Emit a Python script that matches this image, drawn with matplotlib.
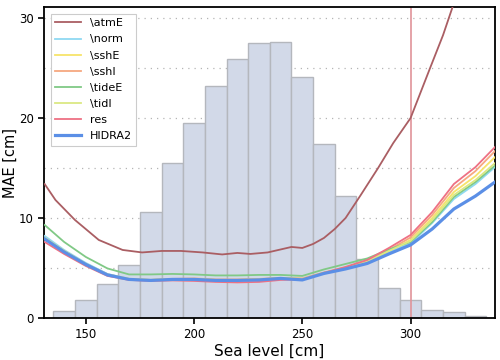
import numpy as np
import matplotlib
matplotlib.use("Agg")
import matplotlib.pyplot as plt
from matplotlib.ticker import MultipleLocator

# histogram of sea levels (heights read in MAE units of the plot)
bin_centers = [140, 150, 160, 170, 180, 190, 200, 210, 220, 230, 240, 250,
               260, 270, 280, 290, 300, 310, 320, 330]
bin_heights = [0.7, 1.8, 3.4, 5.3, 10.6, 15.5, 19.5, 23.2, 25.9, 27.5, 27.6, 24.1,
               17.4, 12.2, 5.9, 3.0, 1.8, 0.8, 0.6, 0.15]

# MAE curves
sea_level = [131, 140, 150, 160, 170, 180, 190, 200, 210, 220, 230, 240,
             250, 260, 270, 280, 290, 300, 310, 320, 330, 339]
hidra2 = [7.9, 6.6, 5.35, 4.3, 3.85, 3.75, 3.85, 3.85, 3.75, 3.75, 3.8, 3.95,
          3.8, 4.45, 4.9, 5.45, 6.4, 7.3, 8.9, 10.9, 12.2, 13.6]
norm = [8.2, 6.8, 5.5, 4.4, 3.9, 3.8, 3.9, 3.9, 3.8, 3.8, 3.85, 4.0,
        3.9, 4.5, 5.0, 5.6, 6.6, 7.45, 9.5, 11.9, 13.4, 15.1]
sshE = [8.0, 6.7, 5.4, 4.35, 3.9, 3.8, 3.9, 3.9, 3.8, 3.8, 3.85, 4.0,
        3.9, 4.5, 5.0, 5.65, 6.7, 7.8, 10.0, 12.6, 14.2, 16.1]
sshI = [7.9, 6.6, 5.35, 4.3, 3.85, 3.8, 3.9, 3.95, 3.85, 3.85, 3.9, 4.0,
        3.95, 4.55, 5.05, 5.7, 6.8, 8.05, 10.3, 13.0, 14.7, 16.7]
tideE = [9.3, 7.6, 6.1, 4.95, 4.35, 4.35, 4.4, 4.35, 4.25, 4.25, 4.3, 4.3,
         4.2, 4.85, 5.4, 5.95, 6.85, 7.6, 9.6, 12.1, 13.6, 15.25]
tidI = [8.0, 6.7, 5.4, 4.35, 3.9, 3.8, 3.9, 3.9, 3.8, 3.8, 3.85, 4.0,
        3.9, 4.5, 5.0, 5.65, 6.7, 7.7, 9.8, 12.3, 13.8, 15.5]
res = [7.6, 6.4, 5.2, 4.2, 3.8, 3.7, 3.75, 3.7, 3.6, 3.55, 3.6, 3.8,
       3.85, 4.5, 5.1, 5.8, 7.0, 8.3, 10.6, 13.4, 15.1, 17.1]

atm_level = [131, 136, 145, 156, 167, 176, 185, 194, 204, 213, 220, 226, 234,
             240, 245, 250, 255, 260, 265, 270, 277, 285, 292, 300, 309, 315, 320]
atmE = [13.4, 11.8, 9.8, 7.8, 6.8, 6.55, 6.7, 6.7, 6.55, 6.35, 6.5, 6.4, 6.55,
        6.85, 7.1, 7.0, 7.4, 8.0, 8.9, 10.0, 12.3, 15.0, 17.5, 20.0, 25.0, 28.3, 31.5]

threshold = 300

plt.rcParams['font.family'] = ['DejaVu Sans']
fig, ax = plt.subplots(figsize=(5, 3.6), dpi=100)

ax.bar(bin_centers, bin_heights, width=10, color='#d2d9e8', edgecolor='#b4b7bd',
       linewidth=1.0, zorder=1)

ax.axvline(threshold, color='#e0949a', linewidth=1.2, zorder=2)

ax.plot(atm_level, atmE, color='#aa5e63', lw=1.3, label='\\atmE', zorder=3)
ax.plot(sea_level, norm, color='#8fd9f2', lw=1.3, label='\\norm', zorder=3)
ax.plot(sea_level, sshE, color='#f7e46a', lw=1.3, label='\\sshE', zorder=3)
ax.plot(sea_level, sshI, color='#f6a880', lw=1.3, label='\\sshI', zorder=3)
ax.plot(sea_level, tideE, color='#80c986', lw=1.3, label='\\tideE', zorder=3)
ax.plot(sea_level, tidI, color='#dbe883', lw=1.3, label='\\tidI', zorder=3)
ax.plot(sea_level, res, color='#ee7184', lw=1.3, label='res', zorder=3)
ax.plot(sea_level, hidra2, color='#5b8fe6', lw=2.3, label='HIDRA2', zorder=4)

ax.set_xlim(130.7, 339)
ax.set_ylim(0, 31.1)
ax.xaxis.set_major_locator(MultipleLocator(50))
ax.yaxis.set_major_locator(MultipleLocator(10))
ax.yaxis.set_minor_locator(MultipleLocator(5))
ax.tick_params(which='minor', length=0)
ax.tick_params(which='major', length=4, width=1.2, labelsize=8.5)
ax.grid(axis='y', which='both', linestyle=(0, (1, 4)), color='#b5b5b5', linewidth=0.9)
ax.set_axisbelow(True)
for sp in ax.spines.values():
    sp.set_linewidth(1.3)
    sp.set_color('black')

ax.set_xlabel('Sea level [cm]', fontsize=11, labelpad=2)
ax.set_ylabel('MAE [cm]', fontsize=10.5, labelpad=1)

leg = ax.legend(loc='upper left', fontsize=8, frameon=True, fancybox=False,
                edgecolor='#cccccc', framealpha=1, handlelength=2.3,
                borderaxespad=0.6, labelspacing=0.55)
leg.get_frame().set_linewidth(0.8)
leg.set_zorder(5)

fig.subplots_adjust(left=0.088, right=0.99, top=0.98, bottom=0.117)
fig.savefig('out.png', dpi=100)
